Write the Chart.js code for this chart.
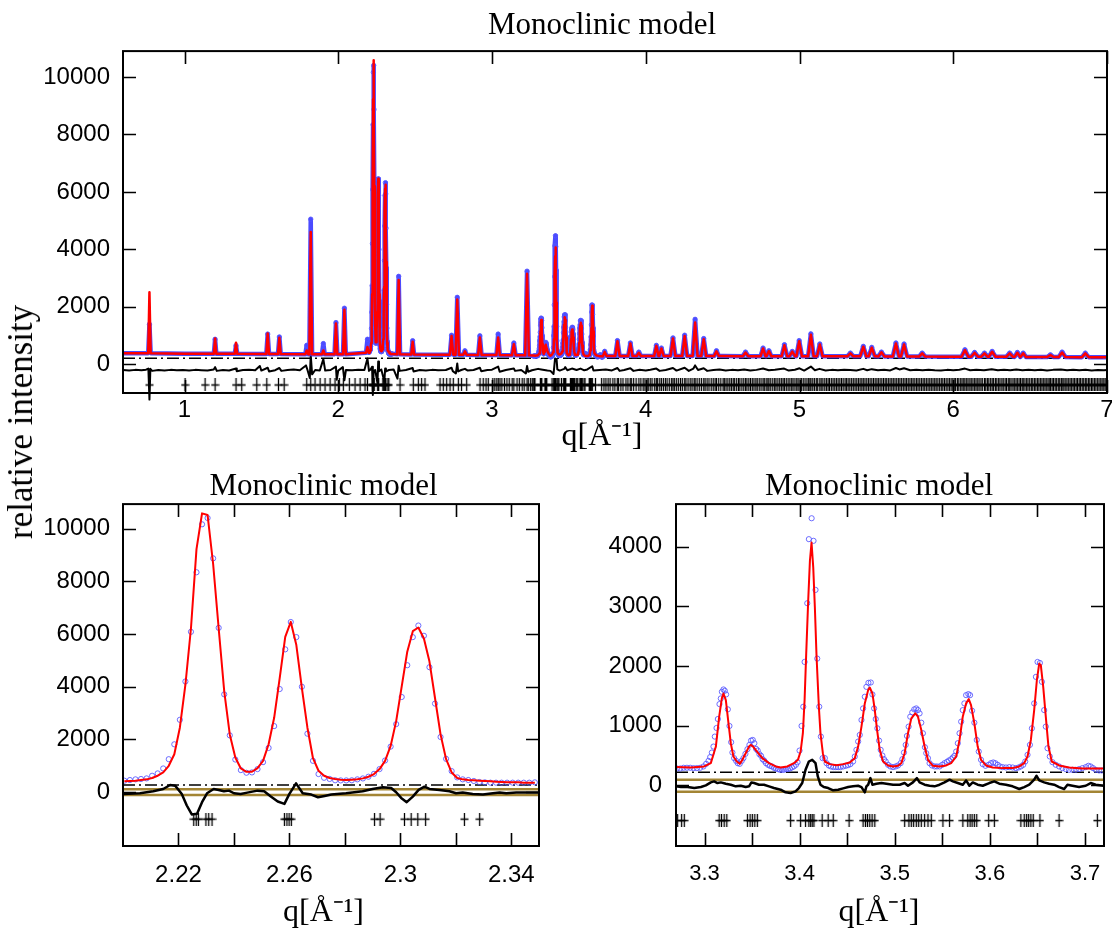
<!DOCTYPE html>
<html><head><meta charset="utf-8">
<script src="https://cdn.jsdelivr.net/npm/chart.js@4.4.0/dist/chart.umd.min.js"></script>
<style>
html,body{margin:0;padding:0;background:#fff;width:1112px;height:935px;overflow:hidden;}
canvas{position:absolute;}
#ylab{position:absolute;left:21px;top:422px;transform:translate(-50%,-50%) rotate(-90deg);font-family:"Liberation Serif","Times New Roman",serif;font-size:35px;white-space:nowrap;color:#000;}
</style></head><body>
<canvas id="cTop" width="1112" height="455" style="left:0;top:0"></canvas>
<canvas id="cBL" width="560" height="475" style="left:0;top:460px"></canvas>
<canvas id="cBR" width="552" height="475" style="left:560px;top:460px"></canvas>
<div id="ylab">relative intensity</div>
<script>
// ================= DATA =================
const TITLE = 'Monoclinic model';
const XLABEL = 'q[Å⁻¹]';
const YLABEL = 'relative intensity';

// ---- top panel ----
const topXTicks = [1,2,3,4,5,6,7];
const topXLabels = ['1','2','3','4','5','6','7'];
const topYTicks = [0,2000,4000,6000,8000,10000];
const topYLabels = ['0','2000','4000','6000','8000','10000'];
const topBgQ = [0.6,1.0,1.5,2.0,2.5,3.0,4.0,4.5,5.04,5.5,6.0,6.5,7.0];
const topBgI = [385,365,355,350,340,320,290,285,280,275,265,255,245];
const topPeakQ = [0.772,1.199,1.335,1.541,1.617,1.795,1.821,1.903,1.985,2.040,
  2.190,2.393,2.484,2.737,2.774,2.824,2.921,3.040,3.142,3.228,
  3.733,3.816,3.900,3.955,4.069,4.102,4.177,4.253,4.321,4.377,
  4.460,4.649,4.763,4.801,4.902,4.953,4.998,5.074,5.132,5.331,
  5.415,5.470,5.533,5.627,5.680,5.798,6.076,6.139,6.203,6.253,
  6.367,6.417,6.455,6.632,6.708,6.859];
const topPeakCalc = [2510,900,750,1070,920,480,4600,480,1420,1900,
  600,2930,780,980,2250,450,930,930,700,3150,
  430,800,720,400,640,550,900,980,1450,870,
  450,410,550,460,660,440,800,1030,690,380,
  610,575,415,720,690,380,490,400,380,435,
  380,400,380,320,410,380];
const topPeakObs = [1390,870,650,1050,950,660,5050,720,1450,1950,
  870,3060,820,1010,2330,470,990,1050,740,3240,
  450,823,740,423,658,564,917,1011,1564,894,
  470,423,564,470,682,447,823,1058,706,388,
  623,588,423,741,705,388,505,411,388,447,
  388,411,388,329,423,388];
const topPeakBase = [385,365,362,355,355,352,352,350,350,350,
  400,345,340,335,335,330,325,320,315,310,
  290,290,290,290,290,290,288,288,288,286,
  285,283,282,282,281,281,280,280,279,277,
  276,275,274,272,271,269,263,262,261,260,
  258,257,256,252,250,248];
const topPeakHW = [0.008,0.008,0.008,0.009,0.009,0.009,0.009,0.009,0.009,0.009,
  0.009,0.009,0.009,0.011,0.011,0.011,0.011,0.011,0.012,0.012,
  0.012,0.014,0.014,0.014,0.014,0.014,0.016,0.016,0.016,0.016,
  0.016,0.018,0.016,0.016,0.018,0.018,0.018,0.018,0.018,0.02,
  0.02,0.02,0.02,0.02,0.02,0.02,0.022,0.022,0.022,0.022,
  0.022,0.018,0.018,0.022,0.022,0.022];
const topDiff = [[0.60,-200],[0.64,-215],[0.68,-195],[0.72,-210],[0.75,-190],[0.765,-150],[0.772,-1230],[0.778,-160],[0.79,-230],
  [0.83,-200],[0.87,-215],[0.91,-195],[0.95,-210],[0.99,-200],[1.03,-220],[1.07,-195],[1.11,-205],[1.15,-215],[1.19,-180],
  [1.199,-100],[1.21,-230],[1.25,-200],[1.29,-215],[1.335,-150],[1.34,-240],[1.38,-200],[1.42,-190],[1.46,-210],[1.49,-60],
  [1.50,-220],[1.541,-120],[1.55,-250],[1.59,-205],[1.617,-130],[1.63,-230],[1.67,-200],[1.71,-185],[1.75,-210],[1.79,-40],
  [1.80,-200],[1.815,-480],[1.821,330],[1.83,-350],[1.85,-200],[1.88,-215],[1.903,180],[1.915,-220],[1.95,-200],[1.985,-80],
  [1.99,-540],[2.00,-220],[2.03,-100],[2.040,-560],[2.05,-200],[2.09,-210],[2.13,-190],[2.17,-200],[2.19,200],[2.20,-230],
  [2.21,-180],[2.22,-90],[2.225,-1070],[2.23,-260],[2.24,-200],[2.255,-650],[2.26,100],[2.265,-240],[2.28,-180],[2.30,-600],
  [2.305,-150],[2.31,-250],[2.33,-200],[2.36,-180],[2.385,-500],[2.393,-50],[2.40,-230],[2.44,-200],[2.484,-130],[2.49,-250],
  [2.53,-200],[2.57,-215],[2.61,-195],[2.65,-210],[2.70,-200],[2.737,-120],[2.745,-240],[2.765,-320],[2.774,30],[2.78,-250],
  [2.80,-200],[2.824,-160],[2.84,-215],[2.88,-200],[2.921,-120],[2.93,-240],[2.97,-200],[3.00,-190],[3.04,-80],[3.05,-260],
  [3.09,-200],[3.142,-150],[3.15,-230],[3.19,-200],[3.22,-320],[3.228,-60],[3.235,-260],[3.26,-210],[3.30,-160],[3.32,-180],
  [3.34,-200],[3.36,-220],[3.38,-230],[3.40,-340],[3.405,-80],[3.41,200],[3.42,180],[3.425,-180],[3.44,-220],[3.47,-160],
  [3.476,-100],[3.49,-210],[3.52,-150],[3.55,-200],[3.576,-150],[3.60,-210],[3.62,-180],[3.652,-70],[3.66,-220],[3.70,-200],
  [3.74,-180],[3.78,-215],[3.816,-130],[3.83,-230],[3.86,-200],[3.90,-140],[3.92,-230],[3.96,-190],[4.00,-215],[4.03,-190],
  [4.069,-150],[4.09,-230],[4.13,-200],[4.177,-130],[4.20,-220],[4.253,-120],[4.28,-230],[4.31,-150],[4.321,-40],[4.34,-200],
  [4.377,-140],[4.40,-230],[4.44,-200],[4.48,-185],[4.52,-215],[4.56,-195],[4.60,-210],[4.64,-180],[4.68,-215],[4.72,-195],
  [4.763,-150],[4.80,-210],[4.84,-190],[4.90,-150],[4.93,-220],[4.97,-190],[5.00,-140],[5.03,-220],[5.074,-80],[5.10,-210],
  [5.13,-160],[5.17,-215],[5.21,-195],[5.25,-210],[5.29,-190],[5.33,-200],[5.37,-215],[5.415,-160],[5.44,-210],[5.47,-170],
  [5.51,-205],[5.55,-190],[5.59,-215],[5.627,-130],[5.65,-180],[5.68,-140],[5.72,-210],[5.76,-195],[5.80,-210],[5.84,-190],
  [5.88,-205],[5.92,-215],[5.96,-195],[6.00,-205],[6.04,-190],[6.076,-150],[6.11,-210],[6.15,-190],[6.20,-205],[6.25,-170],
  [6.29,-210],[6.33,-195],[6.37,-205],[6.41,-185],[6.45,-210],[6.49,-195],[6.53,-205],[6.57,-190],[6.61,-215],[6.65,-195],
  [6.70,-185],[6.74,-210],[6.78,-195],[6.82,-205],[6.86,-190],[6.90,-215],[6.94,-200],[6.98,-210],[7.00,-200]];
const topReflQ = [0.772,1.004,1.134,1.199,1.335,1.372,1.470,1.535,1.611,1.648,1.795,1.821,1.849,1.882,1.914,1.947,1.979,2.007,2.033,2.072,2.109,2.142,2.174,2.190,
  2.402,2.488,2.521,2.542,2.564,2.662,2.683,2.705,2.727,2.748,2.781,2.802,2.835,2.922,2.943,2.961,2.976,
  3.005,3.018,3.031,3.041,3.052,3.064,3.081,3.097,3.112,3.131,3.142,3.163,3.178,3.196,3.209,3.228,3.236,3.251,3.262,
  3.728,3.741,3.755,3.768,3.786,3.799,3.815,3.822,3.838,3.852,3.871,3.884,3.899,3.906,3.921,3.937,3.955,3.968,3.983,3.995,
  4.008,4.016,4.029,4.041,4.058,4.069,4.077,4.091,4.102,4.115,4.128,4.139,4.153,4.168,4.177,4.186,4.199,4.212,4.226,4.238,
  4.253,4.261,4.275,4.289,4.301,4.315,4.321,4.334,4.348,4.362,4.377,4.386,4.399,4.411,4.426,4.439,4.451,4.460,4.474,4.488,
  4.503,4.511,4.522,4.534,4.546,4.557,4.569,4.578,4.591,4.603,4.612,4.625,4.637,4.649,4.658,4.670,4.681,4.693,4.704,4.716,
  4.725,4.738,4.750,4.763,4.771,4.783,4.794,4.801,4.813,4.826,4.838,4.847,4.859,4.871,4.882,4.893,4.902,4.914,4.926,4.937,
  4.949,4.958,4.970,4.982,4.991,5.003,5.012,5.024,5.036,5.048,5.059,5.068,5.074,5.086,5.097,5.109,5.118,5.132,5.141,5.152,
  5.164,5.175,5.186,5.195,5.207,5.218,5.229,5.240,5.251,5.262,5.273,5.284,5.296,5.305,5.316,5.327,5.339,5.350,5.361,5.372,
  5.383,5.394,5.405,5.415,5.426,5.437,5.448,5.459,5.470,5.481,5.492,5.503,5.513,5.524,5.535,5.546,5.557,5.567,5.578,5.589,
  5.600,5.610,5.621,5.632,5.643,5.653,5.664,5.675,5.686,5.696,5.707,5.718,5.729,5.739,5.750,5.761,5.771,5.782,5.793,5.804,
  5.814,5.825,5.836,5.847,5.857,5.868,5.879,5.889,5.900,5.911,5.922,5.932,5.943,5.954,5.965,5.975,5.986,5.997,
  6.006,6.015,6.027,6.036,6.048,6.057,6.068,6.076,6.087,6.096,6.108,6.117,6.128,6.139,6.148,6.159,6.168,6.180,6.189,6.203,
  6.211,6.222,6.231,6.243,6.253,6.262,6.274,6.283,6.295,6.304,6.316,6.325,6.337,6.346,6.358,6.367,6.376,6.388,6.397,6.408,
  6.417,6.428,6.437,6.448,6.455,6.466,6.477,6.486,6.497,6.508,6.517,6.528,6.537,6.548,6.557,6.568,6.577,6.588,6.597,6.608,
  6.617,6.628,6.632,6.643,6.652,6.663,6.672,6.683,6.692,6.703,6.708,6.719,6.728,6.739,6.748,6.759,6.768,6.779,6.788,6.799,
  6.808,6.819,6.828,6.839,6.848,6.859,6.868,6.879,6.888,6.899,6.908,6.919,6.928,6.939,6.948,6.959,6.968,6.979,6.988,6.997];
const topBackgroundLevel = 210;
const topReflLevel = -720;

// ---- bottom-left panel (2.20 - 2.35) ----
const blXTicks = [2.22,2.24,2.26,2.28,2.30,2.32,2.34];
const blXLabels = ['2.22','','2.26','','2.3','','2.34'];
const blYTicks = [0,2000,4000,6000,8000,10000];
const blYLabels = ['0','2000','4000','6000','8000','10000'];
const blQ = [2.2005,2.2025,2.2045,2.2065,2.2085,2.2105,2.2125,2.2145,2.2165,2.2185,
  2.2205,2.2225,2.2245,2.2265,2.2285,2.2305,2.2325,2.2345,2.2365,2.2385,
  2.2405,2.2425,2.2445,2.2465,2.2485,2.2505,2.2525,2.2545,2.2565,2.2585,
  2.2605,2.2625,2.2645,2.2665,2.2685,2.2705,2.2725,2.2745,2.2765,2.2785,
  2.2805,2.2825,2.2845,2.2865,2.2885,2.2905,2.2925,2.2945,2.2965,2.2985,
  2.3005,2.3025,2.3045,2.3065,2.3085,2.3105,2.3125,2.3145,2.3165,2.3185,
  2.3205,2.3225,2.3245,2.3265,2.3285,2.3305,2.3325,2.3345,2.3365,2.3385,
  2.3405,2.3425,2.3445,2.3465,2.3485];
const blObs = [429,455,480,494,517,617,706,894,1246,1811,
  2740,4197,6081,8342,10163,10402,8870,6232,3707,2150,
  1233,831,731,743,869,1133,1673,2502,3909,5416,
  6453,5880,3996,2213,1183,681,540,495,445,440,
  440,445,480,515,580,690,870,1196,1723,2577,
  3607,4813,5880,6320,5931,4738,3356,2088,1258,794,
  555,480,455,417,379,366,354,354,354,354,
  354,354,354,354,366];
const blCalc = [404,417,429,455,480,530,618,743,995,1434,
  2440,4072,6207,9221,10578,10515,8656,6207,3820,2187,
  1308,894,768,768,906,1183,1811,2816,4323,5893,
  6458,5579,3946,2440,1283,806,618,530,492,467,
  455,467,480,517,580,681,869,1183,1748,2690,
  4009,5328,6107,6245,5830,4951,3569,2187,1246,743,
  530,480,455,442,429,417,404,392,379,366,
  366,366,354,354,354];
const blDiff = [[2.2000,-73],[2.2061,-48],[2.2109,27],[2.2145,115],[2.2170,266],[2.2188,241],[2.2212,-73],[2.2230,-513],
  [2.2248,-852],[2.2267,-827],[2.2285,-387],[2.2303,-48],[2.2327,115],[2.2345,78],[2.2364,27],[2.2382,52],[2.2400,-48],
  [2.2424,-73],[2.2448,-23],[2.2485,52],[2.2509,27],[2.2533,-174],[2.2558,-362],[2.2582,-450],[2.2600,-73],[2.2624,329],
  [2.2648,-48],[2.2679,-98],[2.2703,-199],[2.2727,-148],[2.2751,-98],[2.2804,-48],[2.2864,27],[2.2900,115],[2.2937,178],
  [2.2967,153],[2.2985,-10],[2.3003,-224],[2.3023,-387],[2.3045,-174],[2.3066,78],[2.3087,203],[2.3105,115],[2.3141,78],
  [2.3177,27],[2.3201,-48],[2.3225,-23],[2.3261,-73],[2.3298,-98],[2.3334,-48],[2.3358,-23],[2.3382,-48],[2.3418,-23],
  [2.3466,-23],[2.3500,-23]];
const blRefl = [2.2255,2.2264,2.2272,2.2299,2.2309,2.2321,2.2582,2.2591,2.2599,2.2607,2.2907,2.2927,2.3015,2.3039,2.3063,2.3091,2.3231,2.3286];
const blBackgroundLevel = 265;
const blGoldHi = 100, blGoldLo = -110;
const blReflLevel = -1030;

// ---- bottom-right panel (3.27 - 3.72) ----
const brXTicks = [3.30,3.35,3.40,3.45,3.50,3.55,3.60,3.65,3.70];
const brXLabels = ['3.3','','3.4','','3.5','','3.6','','3.7'];
const brYTicks = [0,1000,2000,3000,4000];
const brYLabels = ['0','1000','2000','3000','4000'];
const brObs = [[3.2710,283],[3.2745,283],[3.2780,295],[3.2815,295],[3.2850,295],[3.2885,289],[3.2920,289],[3.2955,295],[3.2989,317],
  [3.3017,361],[3.3042,411],[3.3059,473],[3.3077,550],[3.3094,650],[3.3108,817],[3.3126,961],[3.3140,1111],[3.3157,1361],
  [3.3171,1456],[3.3182,1567],[3.3199,1606],[3.3213,1584],[3.3227,1523],[3.3245,1273],[3.3262,995],[3.3280,723],[3.3293,550],
  [3.3311,456],[3.3332,411],[3.3349,372],[3.3370,361],[3.3391,411],[3.3409,456],[3.3430,528],[3.3451,606],[3.3472,678],
  [3.3489,750],[3.3507,761],[3.3524,706],[3.3542,611],[3.3559,583],[3.3577,522],[3.3594,495],[3.3611,439],[3.3629,411],
  [3.3646,372],[3.3667,345],[3.3688,328],[3.3709,317],[3.3730,295],[3.3751,283],[3.3772,272],[3.3793,261],[3.3814,261],
  [3.3835,261],[3.3856,272],[3.3877,272],[3.3898,283],[3.3919,300],[3.3940,317],[3.3961,345],[3.3978,389],[3.3999,583],
  [3.4020,995],[3.4038,1317],[3.4052,2067],[3.4080,3050],[3.4097,4123],[3.4126,4473],[3.4146,4095],[3.4167,3273],[3.4185,2123],
  [3.4206,1317],[3.4223,817],[3.4241,456],[3.4265,456],[3.4283,372],[3.4307,333],[3.4328,317],[3.4353,306],[3.4381,306],
  [3.4405,306],[3.4430,306],[3.4458,317],[3.4486,328],[3.4510,339],[3.4534,356],[3.4562,400],[3.4580,484],[3.4597,595],
  [3.4615,734],[3.4632,845],[3.4650,1095],[3.4667,1289],[3.4685,1484],[3.4702,1650],[3.4723,1717],[3.4748,1723],[3.4765,1523],
  [3.4783,1289],[3.4800,1111],[3.4817,956],[3.4835,750],[3.4852,595],[3.4870,500],[3.4887,439],[3.4905,400],[3.4929,345],
  [3.4954,317],[3.4982,306],[3.5010,317],[3.5034,333],[3.5062,372],[3.5080,439],[3.5097,550],[3.5115,678],[3.5128,828],
  [3.5146,984],[3.5163,1150],[3.5184,1222],[3.5205,1273],[3.5226,1289],[3.5244,1261],[3.5261,1206],[3.5279,1050],[3.5296,873],
  [3.5317,639],[3.5331,539],[3.5349,456],[3.5366,372],[3.5391,333],[3.5419,317],[3.5443,317],[3.5471,317],[3.5499,345],
  [3.5523,372],[3.5548,394],[3.5569,417],[3.5593,439],[3.5611,467],[3.5628,495],[3.5646,567],[3.5663,706],[3.5681,873],
  [3.5698,1067],[3.5715,1260],[3.5732,1373],[3.5750,1511],[3.5774,1528],[3.5792,1511],[3.5813,1250],[3.5837,1050],[3.5862,761],
  [3.5883,567],[3.5907,428],[3.5925,356],[3.5953,328],[3.5987,345],[3.6012,372],[3.6036,384],[3.6057,372],[3.6082,345],
  [3.6106,317],[3.6134,306],[3.6169,300],[3.6204,306],[3.6239,300],[3.6274,289],[3.6302,300],[3.6326,317],[3.6351,345],
  [3.6372,400],[3.6396,511],[3.6421,678],[3.6442,956],[3.6466,1373],[3.6484,1817],[3.6501,2067],[3.6526,2050],[3.6547,1734],
  [3.6571,1261],[3.6588,984],[3.6606,622],[3.6630,484],[3.6658,389],[3.6693,345],[3.6728,317],[3.6763,289],[3.6798,272],
  [3.6833,261],[3.6868,261],[3.6903,261],[3.6938,272],[3.6973,289],[3.7008,306],[3.7036,328],[3.7060,317],[3.7085,289],
  [3.7113,261],[3.7148,250],[3.7176,250]];
const brCalc = [[3.2700,306],[3.2857,300],[3.2996,317],[3.3066,372],[3.3119,650],[3.3154,1150],[3.3182,1456],[3.3199,1539],
  [3.3224,1428],[3.3252,1039],[3.3276,706],[3.3304,484],[3.3339,400],[3.3370,361],[3.3398,428],[3.3433,539],[3.3468,650],
  [3.3486,678],[3.3510,650],[3.3556,556],[3.3608,456],[3.3678,372],[3.3748,317],[3.3800,300],[3.3870,317],[3.3940,372],
  [3.3982,428],[3.4010,567],[3.4034,873],[3.4052,1428],[3.4069,2206],[3.4090,3095],[3.4108,3762],[3.4125,4067],[3.4143,3650],
  [3.4160,2984],[3.4178,2150],[3.4202,1317],[3.4219,873],[3.4244,539],[3.4265,400],[3.4318,356],[3.4388,339],[3.4458,356],
  [3.4527,384],[3.4580,456],[3.4615,650],[3.4650,984],[3.4685,1373],[3.4720,1595],[3.4737,1639],[3.4765,1539],[3.4790,1262],
  [3.4814,928],[3.4842,595],[3.4877,400],[3.4929,334],[3.4982,317],[3.5034,328],[3.5069,372],[3.5104,539],[3.5139,873],
  [3.5174,1122],[3.5216,1206],[3.5244,1150],[3.5279,928],[3.5314,650],[3.5349,428],[3.5401,328],[3.5471,317],[3.5541,334],
  [3.5593,372],[3.5646,484],[3.5681,761],[3.5715,1150],[3.5750,1373],[3.5778,1445],[3.5802,1345],[3.5837,1039],[3.5872,650],
  [3.5907,428],[3.5960,334],[3.6029,300],[3.6134,289],[3.6239,289],[3.6309,317],[3.6361,372],[3.6396,484],[3.6431,761],
  [3.6466,1261],[3.6494,1761],[3.6519,2039],[3.6536,2011],[3.6561,1650],[3.6588,1150],[3.6616,650],[3.6651,400],[3.6728,334],
  [3.6833,300],[3.6973,283],[3.7078,283],[3.7200,283]];
const brDiff = [[3.2700,-16],[3.2752,-28],[3.2822,-28],[3.2892,-44],[3.2962,-28],[3.3014,0],[3.3066,50],[3.3101,67],[3.3136,39],
  [3.3171,50],[3.3224,28],[3.3276,11],[3.3328,-16],[3.3381,-6],[3.3433,-28],[3.3468,-16],[3.3493,50],[3.3521,39],[3.3573,11],
  [3.3625,11],[3.3678,-16],[3.3730,-44],[3.3800,-72],[3.3852,-116],[3.3905,-128],[3.3957,-100],[3.3992,-44],[3.4027,39],
  [3.4062,261],[3.4097,400],[3.4132,428],[3.4167,372],[3.4191,150],[3.4219,11],[3.4254,-28],[3.4300,-44],[3.4353,-83],
  [3.4405,-72],[3.4458,-50],[3.4510,-28],[3.4562,-16],[3.4615,-6],[3.4650,-28],[3.4685,-116],[3.4702,-16],[3.4720,11],
  [3.4744,122],[3.4765,11],[3.4807,28],[3.4860,39],[3.4912,28],[3.4982,11],[3.5052,11],[3.5104,39],[3.5139,-6],[3.5191,50],
  [3.5233,122],[3.5261,50],[3.5314,11],[3.5366,-6],[3.5419,-16],[3.5471,11],[3.5523,50],[3.5576,95],[3.5611,67],[3.5663,39],
  [3.5715,11],[3.5750,83],[3.5785,-6],[3.5820,50],[3.5872,11],[3.5925,-6],[3.5994,39],[3.6047,67],[3.6099,28],[3.6169,11],
  [3.6239,-16],[3.6309,-61],[3.6361,-28],[3.6414,11],[3.6466,95],[3.6491,161],[3.6519,83],[3.6571,50],[3.6623,28],[3.6676,11],
  [3.6728,-28],[3.6781,-61],[3.6816,11],[3.6868,-6],[3.6938,-28],[3.7008,-6],[3.7060,39],[3.7113,11],[3.7200,-6]];
const brRefl = [3.2717,3.2759,3.2787,3.3154,3.3178,3.3206,3.3234,3.3451,3.3479,3.3503,3.3528,3.3555,3.3905,3.4010,3.4062,
  3.4097,3.4115,3.4132,3.4150,3.4237,3.4300,3.4353,3.4520,3.4667,3.4692,3.4713,3.4737,3.4762,3.4790,3.5104,3.5149,3.5174,
  3.5198,3.5226,3.5251,3.5279,3.5314,3.5349,3.5384,3.5506,3.5576,3.5716,3.5767,3.5792,3.5813,3.5837,3.5862,3.5987,3.6047,
  3.6326,3.6361,3.6386,3.6407,3.6431,3.6456,3.6526,3.6728,3.7130];
const brBackgroundLevel = 220;
const brGoldHi = 95, brGoldLo = -105;
const brReflLevel = -590;

// ================= DRAWING =================
const SANS = '"Liberation Sans", Arial, Helvetica, sans-serif';
const SERIF = '"Liberation Serif", "Times New Roman", serif';
const RED = '#ff0000', BLUE = 'rgba(85,85,255,0.85)', GOLD = 'rgb(163,133,52)';

function plusMarker(){
  const c = document.createElement('canvas'); c.width = 9; c.height = 13;
  const g = c.getContext('2d'); g.strokeStyle = '#000'; g.lineWidth = 1.3;
  g.beginPath(); g.moveTo(4.5,0); g.lineTo(4.5,13); g.moveTo(0.5,6.5); g.lineTo(8.5,6.5); g.stroke();
  return c;
}
const PLUS = plusMarker();

const framePlugin = {
  id:'frame',
  afterDatasetsDraw(chart, args, o){
    const {ctx, chartArea:a} = chart; const sx = chart.scales.x, sy = chart.scales.y;
    const L = o.len || 13;
    ctx.save(); ctx.strokeStyle = '#000'; ctx.lineWidth = 1.6; ctx.beginPath();
    sx.ticks.forEach(t => { const p = Math.round(sx.getPixelForValue(t.value)) + 0.5;
      ctx.moveTo(p, a.bottom); ctx.lineTo(p, a.bottom - L); ctx.moveTo(p, a.top); ctx.lineTo(p, a.top + L); });
    sy.ticks.forEach(t => { const p = Math.round(sy.getPixelForValue(t.value)) + 0.5;
      ctx.moveTo(a.left, p); ctx.lineTo(a.left + L, p); ctx.moveTo(a.right, p); ctx.lineTo(a.right - L, p); });
    ctx.stroke();
    ctx.lineWidth = 2; ctx.strokeRect(a.left, a.top, a.right - a.left, a.bottom - a.top);
    ctx.restore();
  }
};

const pts = arr => arr.map(([x,y]) => ({x,y}));
const hline = (x0,x1,v) => [{x:x0,y:v},{x:x1,y:v}];
const line = (data, color, width, order, extra) => Object.assign({data, borderColor:color, borderWidth:width, pointRadius:0, fill:false, order, tension:0, borderJoinStyle:'round'}, extra||{});
const markers = (qs, level, order) => ({data: qs.map(q => ({x:q, y:level})), showLine:false, pointStyle:PLUS, pointRadius:6, order});
const circles = (data, r, order) => ({data, showLine:false, pointStyle:'circle', pointRadius:r, pointBorderWidth:1,
  pointBorderColor:BLUE, pointBackgroundColor:'rgba(0,0,0,0)', borderColor:BLUE, order});

function build(id, s){
  return new Chart(document.getElementById(id), {
    type:'line',
    data:{datasets:s.datasets},
    options:{
      responsive:false, animation:false, events:[],
      layout:{autoPadding:false, padding:s.pad},
      plugins:{
        legend:{display:false}, tooltip:{enabled:false},
        title:{display:true, text:TITLE, color:'#000', font:{family:SERIF, size:31, weight:'normal', lineHeight:1.1}, padding:s.titlePad},
        subtitle:{display:true, position:'bottom', text:XLABEL, color:'#000', font:{family:SERIF, size:32, weight:'normal', lineHeight:1.1}, padding:{top:0,bottom:0}},
        frame:{len:13}
      },
      scales:{
        x:{type:'linear', min:s.xmin, max:s.xmax, grid:{display:false, drawTicks:false}, border:{display:false},
          afterBuildTicks: sc => { sc.ticks = s.xt.map(v => ({value:v})); },
          afterFit: sc => { sc.height = s.xh; sc.paddingLeft = 0; sc.paddingRight = 0; sc._computeLabelArea = () => null; },
          ticks:{autoSkip:false, maxRotation:0, minRotation:0, padding:s.xpad, color:'#000', font:{family:SANS, size:s.xfs}, callback:(v,i) => s.xl[i]}},
        y:{type:'linear', min:s.ymin, max:s.ymax, grid:{display:false, drawTicks:false}, border:{display:false},
          afterBuildTicks: sc => { sc.ticks = s.yt.map(v => ({value:v})); },
          afterFit: sc => { sc.width = s.yw; sc.paddingTop = 0; sc.paddingBottom = 0; sc._computeLabelArea = () => null; },
          ticks:{autoSkip:false, padding:s.ypad, color:'#000', font:{family:SANS, size:s.yfs}, callback:(v,i) => s.yl[i]}}
      }
    },
    plugins:[framePlugin]
  });
}

// ---- assemble top series from the read values ----
const byX = (a,b) => a.x - b.x;
const topCalcPts = [], topObsPts = [], topObsMarks = [];
topBgQ.forEach((q,i) => { topCalcPts.push({x:q, y:topBgI[i]}); topObsPts.push({x:q, y:topBgI[i]}); });
topPeakQ.forEach((q,i) => {
  const b = topPeakBase[i], w = topPeakHW[i];
  topCalcPts.push({x:q-w, y:b}, {x:q, y:topPeakCalc[i]}, {x:q+w, y:b});
  topObsPts.push({x:q-w, y:b}, {x:q, y:topPeakObs[i]}, {x:q+w, y:b});
  topObsMarks.push({x:q, y:topPeakObs[i]});
});
blQ.forEach((q,i) => { topCalcPts.push({x:q, y:blCalc[i]}); topObsPts.push({x:q, y:blObs[i]}); topObsMarks.push({x:q, y:blObs[i]}); });
brCalc.forEach(([q,v]) => topCalcPts.push({x:q, y:v}));
brObs.forEach(([q,v]) => { topObsPts.push({x:q, y:v}); topObsMarks.push({x:q, y:v}); });
topCalcPts.sort(byX); topObsPts.sort(byX); topObsMarks.sort(byX);
const topRefl = topReflQ.concat(blRefl, brRefl).sort((a,b) => a - b);

build('cTop', {
  pad:{left:97, right:5, top:0, bottom:0.8}, titlePad:{top:9, bottom:8},
  xmin:0.6, xmax:7, ymin:-1000, ymax:10900, xt:topXTicks, xl:topXLabels, yt:topYTicks, yl:topYLabels,
  xh:26, yw:26, xpad:3, ypad:13, xfs:24, yfs:24,
  datasets:[
    line(topCalcPts, RED, 2.5, 0),
    circles(topObsMarks, 2.2, 1),
    line(topObsPts, 'rgba(55,55,255,0.9)', 4.5, 2),
    line(pts(topDiff), '#000', 2, 3, {clip:false}),
    line(hline(0.6, 7, topBackgroundLevel), '#000', 1.5, 4, {borderDash:[12,4,2,4]}),
    markers(topRefl, topReflLevel, 5)
  ]
});

build('cBL', {
  pad:{left:108, right:21, top:0, bottom:4.8}, titlePad:{top:10, bottom:0},
  xmin:2.2, xmax:2.35, ymin:-2050, ymax:10930, xt:blXTicks, xl:blXLabels, yt:blYTicks, yl:blYLabels,
  xh:49, yw:15, xpad:15, ypad:13, xfs:24, yfs:24,
  datasets:[
    line(blQ.map((q,i) => ({x:q, y:blCalc[i]})), RED, 2, 0),
    circles(blQ.map((q,i) => ({x:q, y:blObs[i]})), 2.6, 1),
    line(pts(blDiff), '#000', 2.5, 2),
    line(hline(2.2, 2.35, blGoldHi), GOLD, 2.5, 3),
    line(hline(2.2, 2.35, blGoldLo), GOLD, 2.5, 3),
    line(hline(2.2, 2.35, blBackgroundLevel), '#000', 1.5, 4, {borderDash:[12,4,2,4]}),
    markers(blRefl, blReflLevel, 5)
  ]
});

build('cBR', {
  pad:{left:94, right:8, top:0, bottom:4.8}, titlePad:{top:10, bottom:0},
  xmin:3.27, xmax:3.72, ymin:-1015, ymax:4710, xt:brXTicks, xl:brXLabels, yt:brYTicks, yl:brYLabels,
  xh:49, yw:22, xpad:15, ypad:14, xfs:22, yfs:24,
  datasets:[
    line(pts(brCalc), RED, 2, 0),
    circles(pts(brObs), 2.6, 1),
    line(pts(brDiff), '#000', 2.5, 2),
    line(hline(3.27, 3.72, brGoldHi), GOLD, 2.5, 3),
    line(hline(3.27, 3.72, brGoldLo), GOLD, 2.5, 3),
    line(hline(3.27, 3.72, brBackgroundLevel), '#000', 1.5, 4, {borderDash:[12,4,2,4]}),
    markers(brRefl, brReflLevel, 5)
  ]
});
</script>
</body></html>
